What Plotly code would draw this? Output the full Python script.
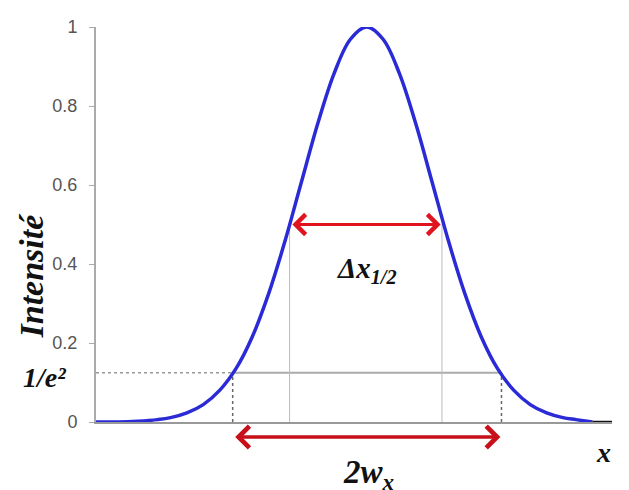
import plotly.graph_objects as go

# Curve (x in arbitrary units, centre at 0)
x_vals = [-4.14, -3.8, -3.5, -3.2, -3.0, -2.75, -2.5, -2.25, -2.0, -1.75, -1.5, -1.25, -1.0,
          -0.75, -0.5, -0.25, 0.0, 0.25, 0.5, 0.75, 1.0, 1.25, 1.5, 1.75, 2.0, 2.25, 2.5,
          2.75, 3.0, 3.2, 3.45]
y_vals = [0.0, 0.0, 0.002, 0.006, 0.011, 0.023, 0.044, 0.080, 0.135, 0.216, 0.325, 0.458, 0.607,
          0.755, 0.882, 0.969, 1.0, 0.969, 0.882, 0.755, 0.607, 0.458, 0.325, 0.216, 0.135, 0.080,
          0.044, 0.023, 0.011, 0.006, 0.0]

y_ticks = [0, 0.2, 0.4, 0.6, 0.8, 1]
y_tick_labels = ["0", "0.2", "0.4", "0.6", "0.8", "1"]

half_level = 0.5
half_left, half_right = -1.18, 1.15
e2_level = 0.125
e2_left, e2_right = -2.05, 2.06
x_min, x_max = -4.14, 3.75

serif = "Liberation Serif"

W, H = 629, 490
ml, mr, mt, mb = 96, 17, 27, 68
pw, ph = W - ml - mr, H - mt - mb


def px_x(v):
    return ml + (v - x_min) / (x_max - x_min) * pw


def paper_x(px):
    return (px - ml) / pw


def paper_y(py):
    return (H - mb - py) / ph


fig = go.Figure()
fig.add_trace(go.Scatter(x=x_vals, y=y_vals, mode="lines", line=dict(color="#2a2ad6", width=3.5, shape="spline"),
                         cliponaxis=False, showlegend=False, hoverinfo="skip"))

shapes = [
    dict(type="line", xref="x", yref="y", x0=x_min, x1=e2_left, y0=e2_level, y1=e2_level,
         line=dict(color="#999", width=1.5, dash="dot"), layer="below"),
    dict(type="line", xref="x", yref="y", x0=e2_left, x1=e2_right, y0=e2_level, y1=e2_level,
         line=dict(color="#aaa", width=2), layer="below"),
    dict(type="line", xref="x", yref="y", x0=e2_left, x1=e2_left, y0=0, y1=e2_level,
         line=dict(color="#666", width=1.5, dash="dot"), layer="below"),
    dict(type="line", xref="x", yref="y", x0=e2_right, x1=e2_right, y0=0, y1=e2_level,
         line=dict(color="#666", width=1.5, dash="dot"), layer="below"),
    dict(type="line", xref="x", yref="y", x0=half_left, x1=half_left, y0=0, y1=half_level,
         line=dict(color="#bbb", width=1), layer="below"),
    dict(type="line", xref="x", yref="y", x0=half_right, x1=half_right, y0=0, y1=half_level,
         line=dict(color="#bbb", width=1), layer="below"),
    dict(type="line", xref="x", yref="y", x0=3.45, x1=x_max, y0=0, y1=0,
         line=dict(color="#111", width=2.5)),
]

e2_px_l, e2_px_r = px_x(e2_left), px_x(e2_right)
arrow_y_px = 437

annotations = [
    dict(x=half_right - 0.02, y=half_level, ax=half_left + 0.02, ay=half_level, xref="x", yref="y",
         axref="x", ayref="y", text="", showarrow=True, arrowhead=4, arrowside="end+start",
         arrowsize=1.3, arrowwidth=3, arrowcolor="#e0141e"),
    dict(x=paper_x(e2_px_r - 1), y=paper_y(arrow_y_px), xref="paper", yref="paper",
         ax=-(e2_px_r - e2_px_l - 2), ay=0, text="", showarrow=True, arrowhead=4, arrowside="end+start",
         arrowsize=1.2, arrowwidth=3.5, arrowcolor="#c8101a"),
    dict(x=0.0, y=0.385, xref="x", yref="y", text="<b><i>Δx<sub>1/2</sub></i></b>", showarrow=False,
         font=dict(family=serif, size=29, color="#111")),
    dict(x=paper_x(368), y=paper_y(474), xref="paper", yref="paper", text="<b><i>2w<sub>x</sub></i></b>",
         showarrow=False, font=dict(family=serif, size=33, color="#111"), yanchor="middle"),
    dict(x=paper_x(613), y=paper_y(452), xref="paper", yref="paper", text="<b><i>x</i></b>",
         showarrow=False, font=dict(family=serif, size=28, color="#111"), yanchor="middle"),
    dict(x=paper_x(21), y=paper_y(377), xref="paper", yref="paper", text="<b><i>1/e²</i></b>",
         showarrow=False, font=dict(family=serif, size=28, color="#111"), yanchor="middle"),
    dict(x=paper_x(10), y=paper_y(276), xref="paper", yref="paper", text="<b><i>Intensité</i></b>",
         showarrow=False, textangle=-90, font=dict(family=serif, size=34, color="#111"), yanchor="middle"),
]

fig.update_layout(
    width=W, height=H, margin=dict(l=ml, r=mr, t=mt, b=mb),
    paper_bgcolor="white", plot_bgcolor="white",
    shapes=shapes, annotations=annotations,
    xaxis=dict(range=[x_min, x_max], showgrid=False, zeroline=False, showticklabels=False,
               showline=True, linecolor="#999", linewidth=2, ticks=""),
    yaxis=dict(range=[0, 1], showgrid=False, zeroline=False, tickvals=y_ticks, ticktext=y_tick_labels,
               showline=True, linecolor="#aaa", linewidth=2, ticks="outside", ticklen=5, tickcolor="#aaa",
               ticklabelstandoff=8,
               tickfont=dict(family="Liberation Sans", size=18, color="#555")),
)

fig.write_html("out.html", post_script="document.body.style.margin='0';",
               config={"displayModeBar": False})
